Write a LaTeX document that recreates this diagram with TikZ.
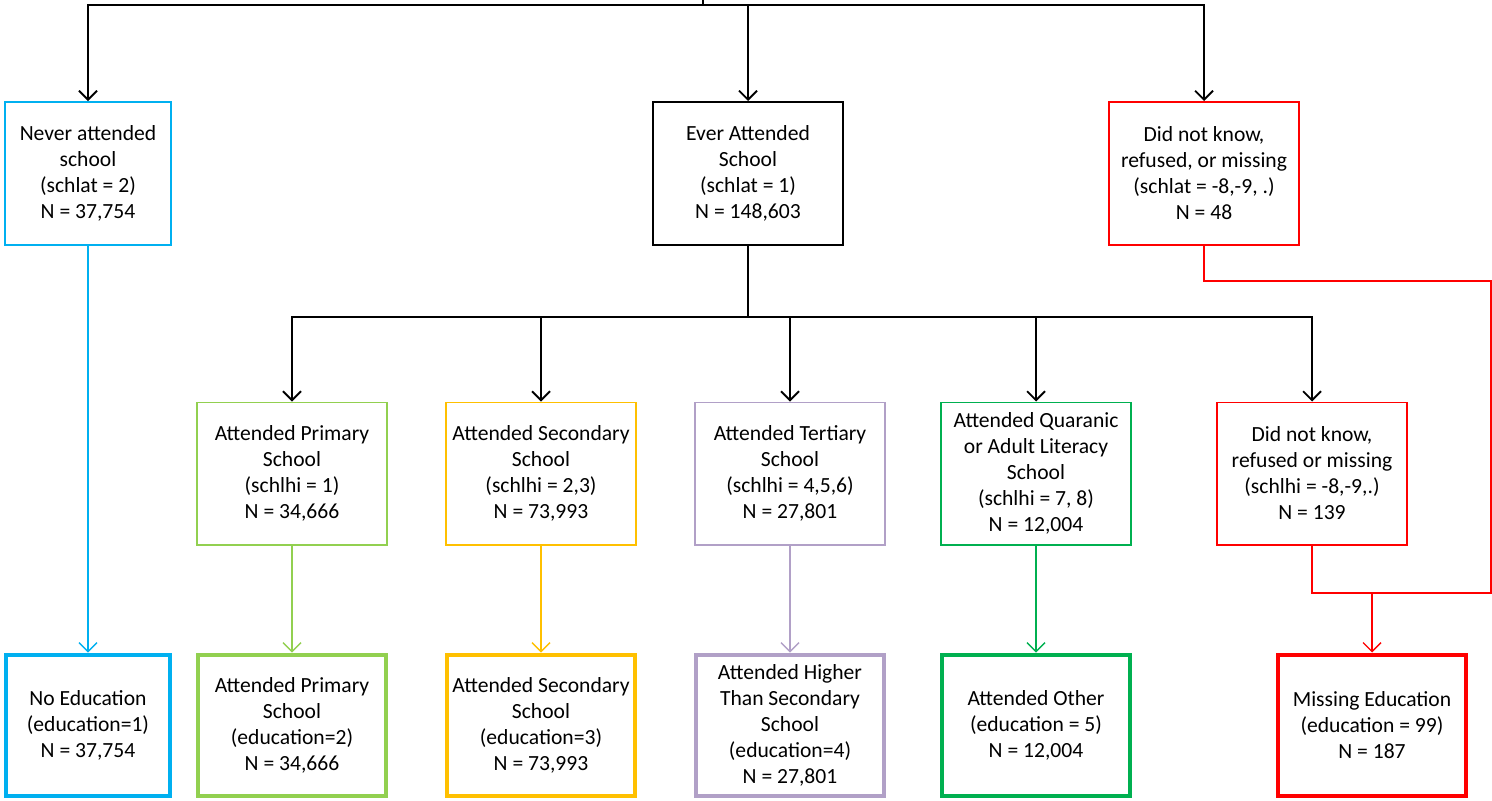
\documentclass[tikz,border=0pt]{standalone}
\usepackage{fontspec}
\setmainfont{Carlito}
\usetikzlibrary{arrows.meta}
\definecolor{cblue}{HTML}{00B0F0}
\definecolor{clgreen}{HTML}{92D050}
\definecolor{cgold}{HTML}{FFC000}
\definecolor{cpurple}{HTML}{B1A0C7}
\definecolor{cdgreen}{HTML}{00B050}
\definecolor{cred}{HTML}{FF0000}
\begin{document}
\begin{tikzpicture}[x=0.5pt,y=-0.5pt,
  font=\fontsize{10.8}{13}\selectfont,
  box/.style={draw, align=center, inner sep=0pt, text=black},
  toprow/.style={box, line width=1pt, minimum width=95pt, minimum height=71.5pt},
  midrow/.style={box, line width=0.75pt, minimum width=95pt, minimum height=71.25pt},
  botrow/.style={box, line width=2pt, minimum width=94pt, minimum height=70.5pt},
  tip/.style={-{Straight Barb[length=4.5pt,width=9pt]}},
  blk/.style={draw=black, line width=0.9pt},
  col/.style={line width=0.7pt}]
\useasboundingbox (0,0) rectangle (1492,800);

% top row
\node[toprow, draw=cblue, minimum width=83pt] (never) at (88,173.5)
  {Never attended\\school\\(schlat = 2)\\N = 37,754};
\node[toprow] (ever) at (748,173.5)
  {Ever Attended\\School\\(schlat = 1)\\N = 148,603};
\node[toprow, draw=cred] (dnk1) at (1204,173.5)
  {Did not know,\\refused, or missing\\(schlat = -8,-9, .)\\N = 48};

% middle row
\node[midrow, draw=clgreen] (prim) at (292,473.5)
  {Attended Primary\\School\\(schlhi = 1)\\N = 34,666};
\node[midrow, draw=cgold] (sec) at (541,473.5)
  {Attended Secondary\\School\\(schlhi = 2,3)\\N = 73,993};
\node[midrow, draw=cpurple] (ter) at (790,473.5)
  {Attended Tertiary\\School\\(schlhi = 4,5,6)\\N = 27,801};
\node[midrow, draw=cdgreen] (qur) at (1036,473.5)
  {Attended Quaranic\\or Adult Literacy\\School\\(schlhi = 7, 8)\\N = 12,004};
\node[midrow, draw=cred] (dnk2) at (1312,473.5)
  {Did not know,\\refused or missing\\(schlhi = -8,-9,.)\\N = 139};

% bottom row
\node[botrow, draw=cblue, minimum width=82pt] (noed) at (88,725)
  {No Education\\(education=1)\\N = 37,754};
\node[botrow, draw=clgreen] (eprim) at (292,725)
  {Attended Primary\\School\\(education=2)\\N = 34,666};
\node[botrow, draw=cgold] (esec) at (541,725)
  {Attended Secondary\\School\\(education=3)\\N = 73,993};
\node[botrow, draw=cpurple] (ehigh) at (790,725)
  {Attended Higher\\Than Secondary\\School\\(education=4)\\N = 27,801};
\node[botrow, draw=cdgreen] (eoth) at (1036,725)
  {Attended Other\\(education = 5)\\N = 12,004};
\node[botrow, draw=cred] (emiss) at (1372,725)
  {Missing Education\\(education = 99)\\N = 187};

% top connectors
\coordinate (topin) at (703,0);
\coordinate (trunk) at (703,5);
\draw[blk] (topin) -- (trunk);
\draw[blk,tip] (trunk) -| (never.north);
\draw[blk,tip] (trunk) -| (dnk1.north);
\draw[blk,tip] (trunk -| ever.north) -- (ever.north);

% middle connectors
\coordinate (bus) at (748,317);
\draw[blk] (ever.south) -- (bus);
\foreach \n in {prim,sec,ter,qur,dnk2}
  \draw[blk,tip] (bus) -| (\n.north);

% coloured connectors
\draw[col,cblue,tip] (never.south) -- (noed.north);
\draw[col,clgreen,tip] (prim.south) -- (eprim.north);
\draw[col,cgold,tip] (sec.south) -- (esec.north);
\draw[col,cpurple,tip] (ter.south) -- (ehigh.north);
\draw[col,cdgreen,tip] (qur.south) -- (eoth.north);

% red missing path
\coordinate (redright) at (1491,281);
\coordinate (redjoin) at (1372,593);
\draw[col,cred] (dnk1.south) |- (redright) |- (redjoin);
\draw[col,cred] (dnk2.south) |- (redjoin);
\draw[col,cred,tip] (redjoin) -- (emiss.north);
\end{tikzpicture}
\end{document}
